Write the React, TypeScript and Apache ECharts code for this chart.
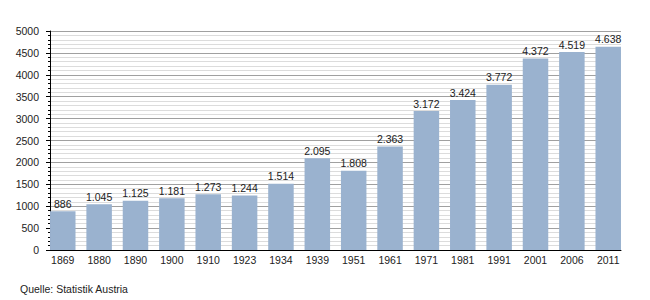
import React, { useEffect, useRef } from "react";
import * as echarts from "echarts";

const categories = ["1869", "1880", "1890", "1900", "1910", "1923", "1934", "1939", "1951", "1961", "1971", "1981", "1991", "2001", "2006", "2011"];
const values = [886, 1045, 1125, 1181, 1273, 1244, 1514, 2095, 1808, 2363, 3172, 3424, 3772, 4372, 4519, 4638];
const yTicks = [0, 500, 1000, 1500, 2000, 2500, 3000, 3500, 4000, 4500, 5000];
const sourceText = "Quelle: Statistik Austria";

const fmt = (n: number) => String(n).replace(/\B(?=(\d{3})+(?!\d))/g, ".");

export default function App() {
  const ref = useRef<HTMLDivElement>(null);
  useEffect(() => {
    if (!ref.current) return;
    const chart = echarts.init(ref.current, null, { renderer: "svg" });
    const font = "'Liberation Sans', Arial, sans-serif";
    const half = 0.351;
    chart.setOption({
      animation: false,
      backgroundColor: "#ffffff",
      textStyle: { fontFamily: font },
      grid: { left: 50, right: 29, top: 31, bottom: 50 },
      xAxis: {
        type: "value",
        min: -half,
        max: categories.length - 1 + half,
        axisLine: { show: true, onZero: false, lineStyle: { color: "#000", width: 1 } },
        axisTick: { show: false },
        splitLine: { show: false },
        axisLabel: {
          customValues: categories.map((_, i) => i),
          formatter: (v: number) => categories[Math.round(v)] ?? "",
          color: "#222",
          fontSize: 10.5,
          fontFamily: font,
          margin: 4,
        },
      },
      yAxis: {
        type: "value",
        min: yTicks[0],
        max: yTicks[yTicks.length - 1],
        interval: 500,
        axisLine: { show: true, onZero: false, lineStyle: { color: "#000", width: 1 } },
        axisTick: { show: true, length: 4, lineStyle: { color: "#000" } },
        minorTick: { show: true, splitNumber: 5, length: 2, lineStyle: { color: "#000" } },
        splitLine: { show: true, lineStyle: { color: "#a0a0a0", width: 1 } },
        minorSplitLine: { show: true, lineStyle: { color: "#dcdcdc", width: 1 } },
        axisLabel: {
          color: "#222",
          fontSize: 10.5,
          fontFamily: font,
          margin: 11,
          formatter: (v: number) => String(v),
        },
      },
      series: [
        {
          type: "bar",
          data: values.map((v, i) => [i, v]),
          barWidth: 25.5,
          itemStyle: { color: "#9ab2cf" },
          label: {
            show: true,
            position: "top",
            distance: 2,
            color: "#222",
            fontSize: 10.5,
            fontFamily: font,
            formatter: (p: any) => fmt(p.value[1]),
          },
        },
      ],
      graphic: [
        {
          type: "text",
          left: 20,
          top: 283,
          style: { text: sourceText, fill: "#222", fontSize: 10.5, fontFamily: font },
        },
      ],
    });
    return () => chart.dispose();
  }, []);
  return <div ref={ref} style={{ position: "fixed", left: 0, top: 0, width: 650, height: 300 }} />;
}
